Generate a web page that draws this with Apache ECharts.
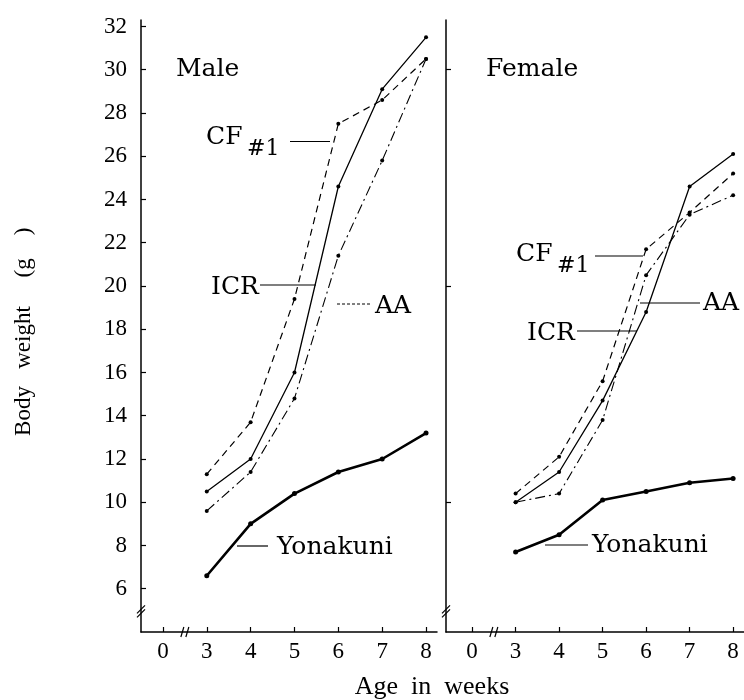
<!DOCTYPE html>
<html><head><meta charset="utf-8">
<script src="https://cdn.jsdelivr.net/npm/echarts@6/dist/echarts.min.js"></script>
<style>html,body{margin:0;background:#fff}#c{width:744px;height:700px}</style>
</head><body><div id="c"></div>
<script>
const weeks = [3, 4, 5, 6, 7, 8];
const xTickPositions = [2, 3, 4, 5, 6, 7, 8];
const xTickLabels = ['0', '3', '4', '5', '6', '7', '8'];
const yTicksMale = [6, 8, 10, 12, 14, 16, 18, 20, 22, 24, 26, 28, 30, 32];
const yTicksFemale = [10, 20, 30];

const maleICR = [10.5, 12.0, 16.0, 24.6, 29.1, 31.5];
const maleCF1 = [11.3, 13.7, 19.4, 27.5, 28.6, 30.5];
const maleAA = [9.6, 11.4, 14.8, 21.4, 25.8, 30.5];
const maleYonakuni = [6.6, 9.0, 10.4, 11.4, 12.0, 13.2];

const femaleICR = [10.0, 11.4, 14.7, 18.8, 24.6, 26.1];
const femaleCF1 = [10.4, 12.1, 15.6, 21.7, 23.4, 25.2];
const femaleAA = [10.0, 10.4, 13.8, 20.5, 23.3, 24.2];
const femaleYonakuni = [7.7, 8.5, 10.1, 10.5, 10.9, 11.1];

const SERIF = '"Liberation Serif", "Times New Roman", serif';
const LSERIF = '"DejaVu Serif", "Liberation Serif", serif';

const chart = echarts.init(document.getElementById('c'), null, {renderer: 'canvas'});

function pts(arr) { return weeks.map((w, i) => [w, arr[i]]); }
function mkSeries(name, arr, idx, style) {
  return {
    name, type: 'line', xAxisIndex: idx, yAxisIndex: idx,
    data: pts(arr), symbol: 'circle', symbolSize: style.sym || 4,
    itemStyle: {color: '#000'},
    lineStyle: {color: '#000', width: style.w, type: style.type},
    animation: false, silent: true
  };
}
const sICR = {w: 1.3, type: 'solid'};
const sCF = {w: 1.2, type: [7, 5]};
const sAA = {w: 1.1, type: [10, 4, 2, 4]};
const sYo = {w: 2.6, type: 'solid', sym: 5};

function xAxisDef(gi, min) {
  return {
    type: 'value', gridIndex: gi, min: min, max: 8.25,
    axisLine: {show: true, lineStyle: {color: '#000', width: 1.5}},
    axisTick: {show: true, inside: true, length: 5, customValues: xTickPositions, lineStyle: {color: '#000', width: 1.2}},
    axisLabel: {show: true, customValues: xTickPositions, margin: 8,
      formatter: v => xTickLabels[xTickPositions.indexOf(v)] ?? '',
      fontFamily: SERIF, fontSize: 23, color: '#000'},
    splitLine: {show: false}
  };
}

chart.setOption({
  backgroundColor: '#fff',
  animation: false,
  grid: [
    {left: 141, top: 20, width: 296, height: 612},
    {left: 446, top: 20, width: 299, height: 612}
  ],
  xAxis: [xAxisDef(0, 1.5), xAxisDef(1, 1.4)],
  yAxis: [
    {type: 'value', gridIndex: 0, min: 4, max: 32.3,
      name: 'Body   weight     (g    )  ', nameLocation: 'middle', nameRotate: 90, nameGap: 106,
      nameTextStyle: {fontFamily: SERIF, fontSize: 23, color: '#000'},
      axisLine: {show: true, lineStyle: {color: '#000', width: 1.5}},
      axisTick: {show: true, inside: true, length: 5, customValues: yTicksMale, lineStyle: {color: '#000', width: 1.2}},
      axisLabel: {show: true, customValues: yTicksMale, margin: 14, fontFamily: SERIF, fontSize: 23, color: '#000'},
      splitLine: {show: false}},
    {type: 'value', gridIndex: 1, min: 4, max: 32.3,
      axisLine: {show: true, lineStyle: {color: '#000', width: 1.5}},
      axisTick: {show: true, inside: true, length: 5, customValues: yTicksFemale, lineStyle: {color: '#000', width: 1.2}},
      axisLabel: {show: false},
      splitLine: {show: false}}
  ],
  series: [
    mkSeries('ICR', maleICR, 0, sICR),
    mkSeries('CF#1', maleCF1, 0, sCF),
    mkSeries('AA', maleAA, 0, sAA),
    mkSeries('Yonakuni', maleYonakuni, 0, sYo),
    mkSeries('ICR', femaleICR, 1, sICR),
    mkSeries('CF#1', femaleCF1, 1, sCF),
    mkSeries('AA', femaleAA, 1, sAA),
    mkSeries('Yonakuni', femaleYonakuni, 1, sYo)
  ]
});

// annotations
const g = [];
function txt(x, y, t, size, font, align) {
  g.push({type: 'text', x, y, silent: true, style: {text: t, fill: '#000', font: size + 'px ' + (font || LSERIF), align: align || 'left', verticalAlign: 'middle'}});
}
function ln(x1, y1, x2, y2, w, dash) {
  g.push({type: 'line', silent: true, shape: {x1, y1, x2, y2}, style: {stroke: '#000', lineWidth: w || 1, lineDash: dash || null}});
}
// Male
txt(176, 69, 'Male', 25);
txt(206, 137, 'CF', 25); txt(247, 149, '#1', 22);
ln(290, 141.5, 330, 141.5, 1.2);
txt(211, 287, 'ICR', 25);
ln(260, 285, 316, 285, 1.2);
txt(375, 306, 'AA', 25);
ln(337, 304, 370, 304, 1, [3, 2]);
txt(277, 547, 'Yonakuni', 25);
ln(237, 546, 268, 546, 1.2);
// Female
txt(486, 69, 'Female', 25);
txt(516, 254, 'CF', 25); txt(557, 266, '#1', 22);
ln(595, 256, 643, 256, 1.2);
txt(703, 303, 'AA', 25);
ln(640, 303, 700, 303, 1.2);
txt(527, 333, 'ICR', 25);
ln(577, 331, 637, 331, 1.2);
txt(592, 545, 'Yonakuni', 25);
ln(545, 545, 588, 545, 1.2);
// x title
txt(432, 687, 'Age  in  weeks', 26, SERIF, 'center');

// break marks
function yBreak(gi) {
  const p = chart.convertToPixel({gridIndex: gi}, [gi === 0 ? 1.5 : 1.4, 5]);
  g.push({type: 'rect', silent: true, shape: {x: p[0] - 3, y: p[1] - 4, width: 6, height: 6}, style: {fill: '#fff'}});
  ln(p[0] - 4, p[1] + 3, p[0] + 4, p[1] - 5, 1.2);
  ln(p[0] - 4, p[1] + 7, p[0] + 4, p[1] - 1, 1.2);
}
function xBreak(gi) {
  const p = chart.convertToPixel({gridIndex: gi}, [2.5, 4]);
  g.push({type: 'rect', silent: true, shape: {x: p[0] - 2, y: p[1] - 2, width: 4, height: 4}, style: {fill: '#fff'}});
  ln(p[0] - 4, p[1] + 5, p[0] - 1, p[1] - 5, 1.2);
  ln(p[0] + 1, p[1] + 5, p[0] + 4, p[1] - 5, 1.2);
}
yBreak(0); yBreak(1); xBreak(0); xBreak(1);
chart.setOption({graphic: g});
</script></body></html>
